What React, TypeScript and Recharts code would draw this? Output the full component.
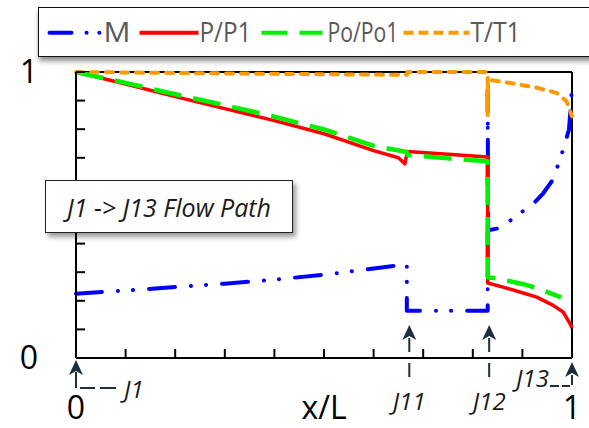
import React from "react";
import { LineChart, Line, XAxis, YAxis, ReferenceLine, Legend } from "recharts";

// x/L positions and values, one pair of arrays per series
const mX = [0, 0.1, 0.2, 0.3, 0.4, 0.5, 0.6, 0.667, 0.667, 0.83, 0.83, 0.831, 0.851, 0.875, 0.895, 0.922, 0.942, 0.959, 0.976, 0.986, 0.994, 0.997, 1.0];
const mY = [0.225, 0.236, 0.248, 0.26, 0.274, 0.291, 0.313, 0.328, 0.165, 0.165, 0.94, 0.447, 0.453, 0.48, 0.506, 0.539, 0.576, 0.617, 0.693, 0.752, 0.8, 0.87, 0.95];

const pX = [0, 0.1, 0.2, 0.3, 0.4, 0.5, 0.6, 0.65, 0.663, 0.668, 0.75, 0.83, 0.83, 0.861, 0.9, 0.929, 0.962, 0.982, 0.996, 1.0];
const pY = [1.0, 0.958, 0.914, 0.872, 0.83, 0.784, 0.725, 0.7, 0.679, 0.722, 0.712, 0.703, 0.262, 0.248, 0.228, 0.213, 0.184, 0.161, 0.12, 0.105];

const poX = [0, 0.1, 0.2, 0.3, 0.4, 0.5, 0.6, 0.667, 0.668, 0.75, 0.83, 0.83, 0.851, 0.902, 0.932, 0.978];
const poY = [1.0, 0.962, 0.922, 0.884, 0.844, 0.799, 0.742, 0.72, 0.71, 0.698, 0.688, 0.282, 0.278, 0.258, 0.243, 0.212];

const tX = [0, 0.3, 0.667, 0.668, 0.83, 0.83, 0.831, 0.838, 0.882, 0.929, 0.969, 0.989, 1.0];
const tY = [1.0, 0.995, 0.99, 1.0, 1.0, 0.85, 0.97, 0.971, 0.96, 0.945, 0.927, 0.898, 0.845];

const xTicks = [0, 0.1, 0.2, 0.3, 0.4, 0.5, 0.6, 0.7, 0.8, 0.9, 1];
const yTicks = [0, 0.1, 0.2, 0.3, 0.4, 0.5, 0.6, 0.7, 0.8, 0.9, 1];

const junctions = [
  { name: "J1", x: 0, style: "right" },
  { name: "J11", x: 0.672, style: "down" },
  { name: "J12", x: 0.833, style: "down" },
  { name: "J13", x: 1, style: "left" },
];

const rows = (xs: number[], ys: number[]) => xs.map((x, i) => ({ x, y: ys[i] }));

// drawn bottom to top: M sits under the pressure lines at J12
const series = [
  { name: "M", data: rows(mX, mY), color: "#0000ff", width: 4, dash: "26 16 0.1 15 0.1 16", cap: "round" },
  { name: "P/P1", data: rows(pX, pY), color: "#ff0000", width: 3.5, dash: undefined, cap: "butt" },
  { name: "Po/Po1", data: rows(poX, poY), color: "#00f000", width: 4.5, dash: "28 12", cap: "butt" },
  { name: "T/T1", data: rows(tX, tY), color: "#ff9900", width: 4, dash: "7 8", cap: "round" },
];

// legend swatches (box-relative), drawn in the order of the reference
const legendItems = [
  { name: "M", color: "#0000ff", dash: "22 15 0.1 12.7 0.1 20", cap: "round", x0: 10.5, x1: 60.7, tx: 64.5, tw: 27 },
  { name: "P/P1", color: "#ff0000", dash: undefined, cap: "butt", x0: 100.5, x1: 159.5, tx: 160.5, tw: 52 },
  { name: "Po/Po1", color: "#00f000", dash: "26 12", cap: "butt", x0: 222.5, x1: 283.5, tx: 288.5, tw: 71 },
  { name: "T/T1", color: "#ff9900", dash: "10 5", cap: "butt", x0: 364.5, x1: 430.5, tx: 431.5, tw: 50 },
];

const ARROW = "#1d2f3c";
const FONT = "'Open Sans', 'Noto Sans', sans-serif";

function LegendBox() {
  return (
    <div
      style={{
        width: 570,
        height: 50,
        boxSizing: "border-box",
        border: "1.5px solid #111",
        background: "#fff",
        boxShadow: "1px 4px 5px rgba(0,0,0,0.45)",
      }}
    >
      <svg width={570} height={48}>
        {legendItems.map((it) => (
          <g key={it.name}>
            <line
              x1={it.x0}
              x2={it.x1}
              y1={24.8}
              y2={24.8}
              stroke={it.color}
              strokeWidth={4}
              strokeDasharray={it.dash}
              strokeLinecap={it.cap as any}
            />
            <text
              x={it.tx}
              y={34.2}
              fontSize={27}
              fontFamily={FONT}
              fill="#595959"
              textLength={it.tw}
              lengthAdjust="spacingAndGlyphs"
            >
              {it.name}
            </text>
          </g>
        ))}
      </svg>
    </div>
  );
}

function ArrowHead({ x, y }: { x: number; y: number }) {
  return <path d={`M${x},${y} L${x + 7},${y + 15} L${x},${y + 11} L${x - 7},${y + 15} Z`} fill={ARROW} />;
}

function junctionShape(name: string, style: string) {
  return (p: any) => {
    const x = p.x1;
    const b = Math.max(p.y1, p.y2);
    const font = { fontFamily: FONT, fontStyle: "italic", fontSize: 24, fill: "#1a1a1a" };
    if (style === "down") {
      return (
        <g>
          <ArrowHead x={x} y={b - 33} />
          <line x1={x} y1={b - 20} x2={x} y2={b + 22} stroke={ARROW} strokeWidth={2} strokeDasharray="14 11" />
          <text x={x} y={b + 52} textAnchor="middle" {...font}>{name}</text>
        </g>
      );
    }
    if (style === "right") {
      return (
        <g>
          <ArrowHead x={x} y={b + 2} />
          <path d={`M${x},${b + 14} V${b + 30} H${x + 41}`} fill="none" stroke={ARROW} strokeWidth={2} strokeDasharray="16 4 15 5" />
          <text x={x + 48} y={b + 40} {...font}>{name}</text>
        </g>
      );
    }
    return (
      <g>
        <ArrowHead x={x} y={b + 4} />
        <path d={`M${x},${b + 17} V${b + 28} H${x - 22}`} fill="none" stroke={ARROW} strokeWidth={2} strokeDasharray="10 3 8 3 9" />
        <text x={x - 23} y={b + 29} textAnchor="end" {...font}>{name}</text>
      </g>
    );
  };
}

const endLabel = (v: number) => (v === 0 || v === 1 ? String(v) : "");

export default function App() {
  return (
    <div style={{ position: "absolute", left: 0, top: 0, width: 589, height: 428, overflow: "hidden", background: "#fff", fontFamily: FONT }}>
      <LineChart width={589} height={428} margin={{ top: 72, right: 17, bottom: 0, left: 16 }}>
        <XAxis
          dataKey="x"
          type="number"
          domain={[0, 1]}
          ticks={xTicks}
          interval={0}
          tickFormatter={endLabel}
          height={70}
          tickSize={-9}
          tickMargin={47}
          axisLine={{ stroke: "#000", strokeWidth: 2 }}
          tickLine={{ stroke: "#000", strokeWidth: 2 }}
          tick={{ fill: "#000", fontSize: 32, fontFamily: FONT }}
          label={{ value: "x/L", position: "bottom", offset: -32, fill: "#000", fontSize: 32, fontFamily: FONT }}
        />
        <YAxis
          type="number"
          domain={[0, 1]}
          ticks={yTicks}
          interval={0}
          tickFormatter={endLabel}
          width={60}
          tickSize={-9}
          tickMargin={47}
          axisLine={{ stroke: "#000", strokeWidth: 2 }}
          tickLine={{ stroke: "#000", strokeWidth: 2 }}
          tick={{ fill: "#000", fontSize: 32, fontFamily: FONT }}
        />
        <ReferenceLine y={1} stroke="#000" strokeWidth={2} />
        <ReferenceLine x={1} stroke="#000" strokeWidth={2} />
        {series.map((s) => (
          <Line
            key={s.name}
            data={s.data}
            dataKey="y"
            name={s.name}
            type="linear"
            stroke={s.color}
            strokeWidth={s.width}
            strokeDasharray={s.dash}
            strokeLinecap={s.cap as any}
            strokeLinejoin="round"
            dot={false}
            activeDot={false}
            isAnimationActive={false}
          />
        ))}
        {junctions.map((j) => (
          <ReferenceLine key={j.name} x={j.x} ifOverflow="visible" shape={junctionShape(j.name, j.style)} />
        ))}
        <Legend
          layout="horizontal"
          verticalAlign="middle"
          align="center"
          content={() => <LegendBox />}
          wrapperStyle={{ top: 7, left: 38, width: 570, height: 50 }}
        />
      </LineChart>
      <div
        style={{
          position: "absolute",
          left: 45,
          top: 180,
          width: 248,
          height: 53,
          boxSizing: "border-box",
          border: "1.5px solid #222",
          background: "#fff",
          boxShadow: "3px 4px 5px rgba(0,0,0,0.4)",
          display: "flex",
          alignItems: "center",
          justifyContent: "center",
          fontStyle: "italic",
          fontSize: 25,
          color: "#1a1a1a",
          fontFamily: FONT,
        }}
      >
        J1 -&gt; J13 Flow Path
      </div>
    </div>
  );
}
